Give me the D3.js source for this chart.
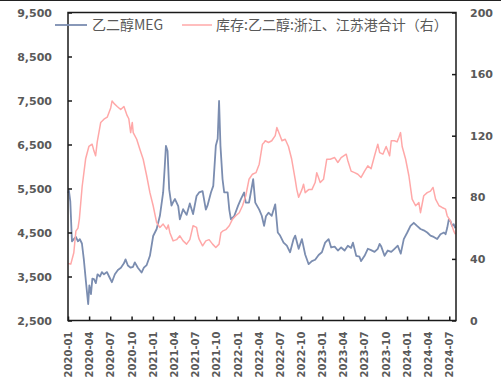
<!DOCTYPE html>
<html>
<head>
<meta charset="utf-8">
<script src="https://cdn.jsdelivr.net/npm/d3@7"></script>
<style>
  body { margin: 0; background: #fff; }
  svg { display: block; }
</style>
</head>
<body>
<div class="chart"></div>
<script>
// series names
var megName = '乙二醇MEG';
var invName = '库存:乙二醇:浙江、江苏港合计（右）';

// MEG price (left axis)
var megDates = ['2020-01-02','2020-01-05','2020-01-11','2020-01-18','2020-01-26','2020-02-04','2020-02-13','2020-02-21','2020-03-01','2020-03-09',
  '2020-03-18','2020-03-28','2020-04-02','2020-04-09','2020-04-15','2020-04-22','2020-04-30','2020-05-07','2020-05-18','2020-05-26',
  '2020-06-04','2020-06-17','2020-06-26','2020-07-08','2020-07-21','2020-08-03','2020-08-16','2020-08-29','2020-09-05','2020-09-15',
  '2020-09-27','2020-10-07','2020-10-15','2020-10-28','2020-11-13','2020-11-23','2020-12-05','2020-12-19','2021-01-02','2021-01-17',
  '2021-01-31','2021-02-14','2021-02-21','2021-02-26','2021-03-05','2021-03-12','2021-03-22','2021-03-30','2021-04-06','2021-04-20',
  '2021-04-27','2021-05-11','2021-05-26','2021-06-09','2021-06-23','2021-07-08','2021-07-19','2021-08-03','2021-08-17','2021-08-24',
  '2021-09-08','2021-09-18','2021-09-29','2021-10-07','2021-10-13','2021-10-19','2021-10-28','2021-11-04','2021-11-19','2021-11-26',
  '2021-12-03','2021-12-17','2022-01-03','2022-01-15','2022-01-29','2022-02-05','2022-02-19','2022-02-27','2022-03-09','2022-03-18',
  '2022-04-04','2022-04-15','2022-04-25','2022-05-03','2022-05-14','2022-05-28','2022-06-12','2022-06-23','2022-07-03','2022-07-18',
  '2022-08-01','2022-08-15','2022-08-30','2022-09-06','2022-09-21','2022-10-05','2022-10-19','2022-11-03','2022-11-17','2022-12-01',
  '2022-12-16','2022-12-30','2023-01-13','2023-01-28','2023-02-08','2023-02-23','2023-03-09','2023-03-23','2023-04-07','2023-04-21',
  '2023-05-05','2023-05-13','2023-05-27','2023-06-10','2023-06-17','2023-07-02','2023-07-16','2023-07-30','2023-08-14','2023-08-28',
  '2023-09-05','2023-09-12','2023-09-26','2023-10-10','2023-10-25','2023-11-08','2023-11-22','2023-12-05','2023-12-18','2024-01-02',
  '2024-01-16','2024-01-30','2024-02-13','2024-02-28','2024-03-13','2024-03-28','2024-04-11','2024-04-25','2024-05-10','2024-05-24',
  '2024-06-08','2024-06-15','2024-06-22','2024-06-29','2024-07-06','2024-07-13','2024-07-20','2024-07-27'];
var megValues = [5400,5450,5200,4300,4350,4400,4300,4350,4250,3900,
  3400,2870,3300,3100,3450,3440,3350,3550,3500,3600,
  3550,3600,3500,3370,3550,3650,3700,3800,3890,3750,
  3700,3720,3820,3700,3590,3700,3760,3970,4420,4580,
  4880,5410,6000,6470,6350,5480,5110,5200,5260,5100,
  4800,5030,4900,5160,4920,5330,5410,5440,5020,5110,
  5410,5560,6470,6630,7490,6470,5710,5410,5410,5020,
  4800,4870,5110,5260,5410,5180,5180,5410,5710,5180,
  5020,4880,4650,4870,4950,4880,5140,4500,4430,4270,
  4200,4050,4350,4430,4130,4350,4000,3780,3850,3880,
  3990,4050,4270,4350,4160,4180,4090,4160,4090,4200,
  4150,4270,3970,3950,3850,3970,4130,4100,4060,4130,
  4240,4180,3970,4090,4060,4130,4200,4020,4350,4500,
  4650,4720,4650,4580,4550,4500,4430,4400,4350,4460,
  4500,4460,4600,4800,4760,4650,4690,4600];

// port inventory, 10k t (right axis)
var invDates = ['2020-01-02','2020-01-13','2020-01-26','2020-02-04','2020-02-13','2020-02-19','2020-03-02','2020-03-17','2020-03-31','2020-04-14',
  '2020-04-22','2020-04-29','2020-05-06','2020-05-21','2020-06-04','2020-06-18','2020-07-03','2020-07-09','2020-07-17','2020-07-31',
  '2020-08-15','2020-08-29','2020-09-12','2020-09-19','2020-09-27','2020-10-04','2020-10-08','2020-10-23','2020-11-06','2020-11-20',
  '2020-12-05','2020-12-19','2021-01-02','2021-01-17','2021-01-31','2021-02-14','2021-03-01','2021-03-08','2021-03-15','2021-03-29',
  '2021-04-13','2021-04-27','2021-05-11','2021-05-26','2021-06-09','2021-06-23','2021-07-08','2021-07-15','2021-07-19','2021-08-03',
  '2021-08-17','2021-08-31','2021-09-15','2021-09-29','2021-10-13','2021-10-21','2021-10-28','2021-11-11','2021-11-26','2021-12-10',
  '2021-12-24','2022-01-08','2022-01-22','2022-02-05','2022-02-19','2022-03-06','2022-03-21','2022-04-04','2022-04-18','2022-04-25',
  '2022-04-30','2022-05-14','2022-05-28','2022-06-12','2022-06-19','2022-07-03','2022-07-11','2022-07-25','2022-08-08','2022-08-22',
  '2022-09-06','2022-09-13','2022-09-21','2022-10-05','2022-10-12','2022-10-19','2022-11-03','2022-11-17','2022-12-01','2022-12-08',
  '2022-12-23','2023-01-06','2023-01-20','2023-02-04','2023-02-23','2023-03-09','2023-03-23','2023-04-14','2023-04-21','2023-05-05',
  '2023-05-20','2023-06-03','2023-06-17','2023-07-02','2023-07-16','2023-07-30','2023-08-14','2023-08-28','2023-09-05','2023-09-19',
  '2023-10-03','2023-10-18','2023-10-25','2023-11-08','2023-11-19','2023-11-27','2023-12-04','2023-12-11','2023-12-26','2024-01-09',
  '2024-01-23','2024-02-07','2024-02-21','2024-02-28','2024-03-13','2024-03-28','2024-04-11','2024-04-22','2024-05-03','2024-05-18',
  '2024-05-31','2024-06-15','2024-06-22','2024-07-06','2024-07-20','2024-07-27'];
var invValues = [37,36.6,44,58,60,66,87,105,113,114.5,
  110,107,116,128.6,130.7,132,138,142.6,141,139,
  137,139,133,131,122,128.6,122,117.7,111,104.7,
  94,83,74.5,63.6,60.4,62.6,59.3,62,57,51.7,
  52.5,55,51.7,49.6,52.5,61.5,60.5,55,52.8,48.5,
  51.7,52.5,49.6,47.4,49.6,57,58,59,61.5,65.8,
  68,70,74.5,81,91.7,95,96,101.5,114.5,115.6,
  116.7,115.6,116.7,120,125.3,120,116.7,117.7,113,104.7,
  91.7,85,80,85,88.5,83,85,85,89.6,96,
  89.6,91.7,104.7,104.7,105.8,102.6,105.8,108,103.7,97,
  96,95,92.9,97,100.4,98.5,107,114.5,109,108,
  113,107,116.7,116.7,116,119,122,113,104.7,94,
  78.8,74.5,76.6,70,81,83,84,86.4,78.8,74.5,
  73.4,72.3,68,64.7,58.2,56];

// axis ticks
var leftTicks = [2500, 3500, 4500, 5500, 6500, 7500, 8500, 9500];
var rightTicks = [0, 40, 80, 120, 160, 200];

var W = 501, H = 383;
var plot = {left: 68, right: 456, top: 12.5, bottom: 320.5};
var textColor = '#595959';
var megColor = '#7B8DB0';
var invColor = '#FFA8A8';

var parse = d3.timeParse('%Y-%m-%d');
var meg = megDates.map((d, i) => ({date: parse(d), value: megValues[i]}));
var inv = invDates.map((d, i) => ({date: parse(d), value: invValues[i]}));

var x = d3.scaleTime()
          .domain([new Date(2020, 0, 1), new Date(2024, 6, 30)])
          .range([plot.left, plot.right]);
var yL = d3.scaleLinear().domain([2500, 9500]).range([plot.bottom, plot.top]);
var yR = d3.scaleLinear().domain([0, 200]).range([plot.bottom, plot.top]);

var svg = d3.select('.chart')
            .append('svg')
            .attr('width', W)
            .attr('height', H);

svg.append('rect').attr('width', W).attr('height', H).attr('fill', '#fff');

// thin dark line across the top edge of the screenshot
svg.append('line')
    .attr('x1', 0).attr('x2', W).attr('y1', 0.5).attr('y2', 0.5)
    .attr('stroke', '#222').attr('stroke-width', 1);

// lines
var lineL = d3.line().x(d => x(d.date)).y(d => yL(d.value));
var lineR = d3.line().x(d => x(d.date)).y(d => yR(d.value));

svg.append('path')
    .datum(meg)
    .attr('d', lineL)
    .attr('fill', 'none')
    .attr('stroke', megColor)
    .attr('stroke-width', 1.8)
    .attr('stroke-linejoin', 'round');

svg.append('path')
    .datum(inv)
    .attr('d', lineR)
    .attr('fill', 'none')
    .attr('stroke', invColor)
    .attr('stroke-width', 1.5)
    .attr('stroke-linejoin', 'round');

// axes, ticks point inward
var styleAxis = function(g) {
    g.select('.domain').remove();
    g.selectAll('line').attr('stroke', '#1a1a1a').attr('stroke-width', 1.5);
    g.selectAll('text')
        .attr('fill', textColor)
        .style('font-family', 'DejaVu Sans')
        .style('font-weight', 'bold');
};

svg.append('g')
    .attr('transform', `translate(${plot.left},0)`)
    .call(d3.axisLeft(yL).tickValues(leftTicks).tickSize(-4).tickPadding(16).tickFormat(d3.format(',')))
    .call(styleAxis)
    .selectAll('text').style('font-size', '11px');

svg.append('g')
    .attr('transform', `translate(${plot.right},0)`)
    .call(d3.axisRight(yR).tickValues(rightTicks).tickSize(-4).tickPadding(14))
    .call(styleAxis)
    .selectAll('text').style('font-size', '11px');

svg.append('g')
    .attr('transform', `translate(0,${plot.bottom})`)
    .call(d3.axisBottom(x)
            .ticks(d3.timeMonth.every(3))
            .tickSize(-4)
            .tickFormat(d3.timeFormat('%Y-%m')))
    .call(styleAxis)
    .selectAll('text')
    .style('font-size', '10px')
    .attr('transform', 'rotate(-90)')
    .attr('x', -11)
    .attr('y', 0)
    .attr('dy', '0.35em')
    .style('text-anchor', 'end');

// plot frame
svg.append('rect')
    .attr('x', plot.left)
    .attr('y', plot.top)
    .attr('width', plot.right - plot.left)
    .attr('height', plot.bottom - plot.top)
    .attr('fill', 'none')
    .attr('stroke', '#1a1a1a')
    .attr('stroke-width', 1.5);

// legend
var legend = svg.append('g').attr('class', 'legend');
var items = [
    {name: megName, color: megColor, x0: 55, x1: 87, tx: 92, w: 1.8},
    {name: invName, color: invColor, x0: 182, x1: 212, tx: 216, w: 1.5}
];
items.forEach(it => {
    legend.append('line')
        .attr('x1', it.x0).attr('x2', it.x1)
        .attr('y1', 25).attr('y2', 25)
        .attr('stroke', it.color)
        .attr('stroke-width', it.w);
    legend.append('text')
        .attr('x', it.tx)
        .attr('y', 25)
        .attr('dy', '0.36em')
        .attr('fill', textColor)
        .style('font-family', '"Noto Sans CJK SC", "DejaVu Sans"')
        .style('font-size', '14px')
        .text(it.name);
});
</script>
</body>
</html>
